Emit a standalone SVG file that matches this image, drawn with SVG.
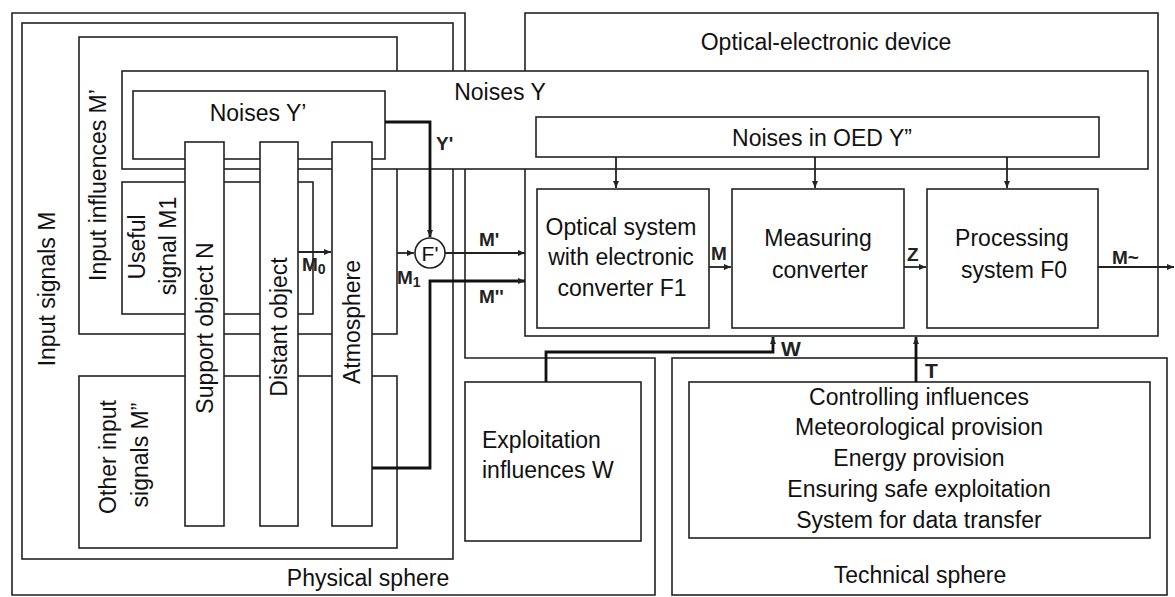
<svg xmlns="http://www.w3.org/2000/svg" width="1175" height="597" viewBox="0 0 1175 597">
<style>
.b{fill:none;stroke:#222;stroke-width:1.6}
.w{fill:#fff;stroke:#222;stroke-width:1.6}
.t{font-family:'Liberation Sans',Arial,sans-serif;font-size:23px;fill:#111;text-anchor:middle;dominant-baseline:central}
.l{font-family:'Liberation Sans',Arial,sans-serif;font-size:19px;font-weight:bold;fill:#222;dominant-baseline:central}
.c{fill:none;stroke:#222;stroke-width:1.8}
.k{fill:none;stroke:#111;stroke-width:2.8}
</style>
<defs>
<marker id="a" markerUnits="userSpaceOnUse" markerWidth="8" markerHeight="8" refX="7" refY="4" orient="auto">
<path d="M0,1 L7,4 L0,7 z" fill="#222"/>
</marker>
</defs>
<rect width="1175" height="597" fill="#fff"/>

<g id="physical-sphere">
<path class="b" d="M12,13 H465 V358 H655 V595 H12 Z"/>
<text class="t" x="368" y="578">Physical sphere</text>
</g>
<g id="input-signals">
<rect class="b" x="22" y="23" width="431" height="536"/>
<text class="t" transform="translate(47,289) rotate(-90)">Input signals M</text>
</g>
<g id="input-influences">
<rect class="b" x="79" y="37" width="318" height="297"/>
<text class="t" transform="translate(98,185) rotate(-90)">Input influences M’</text>
</g>
<g id="other-input">
<rect class="b" x="79" y="376" width="318" height="172"/>
<text class="t" transform="translate(108,457) rotate(-90)">Other input</text>
<text class="t" transform="translate(140,455) rotate(-90)">signals M”</text>
</g>
<g id="useful-signal">
<rect class="b" x="122" y="182" width="191" height="132"/>
<text class="t" transform="translate(137,247) rotate(-90)">Useful</text>
<text class="t" transform="translate(168,246) rotate(-90)">signal M1</text>
</g>
<g id="oed">
<rect class="b" x="525" y="13" width="633" height="323"/>
<text class="t" x="826" y="42">Optical-electronic device</text>
</g>
<g id="noises-y">
<rect class="w" x="122" y="71" width="1026" height="98"/>
<text class="t" x="500" y="92">Noises Y</text>
</g>
<g id="noises-y1">
<rect class="w" x="133" y="91" width="252" height="68"/>
<text class="t" x="258" y="113">Noises Y’</text>
</g>
<g id="support-object">
<rect class="w" x="185" y="142" width="39" height="384"/>
<text class="t" transform="translate(205,328) rotate(-90)">Support object N</text>
</g>
<g id="distant-object">
<rect class="w" x="260" y="142" width="38" height="384"/>
<text class="t" transform="translate(279,327) rotate(-90)">Distant object</text>
</g>
<g id="atmosphere">
<rect class="w" x="332" y="142" width="40" height="384"/>
<text class="t" transform="translate(352,322) rotate(-90)">Atmosphere</text>
</g>
<g id="noises-oed">
<rect class="w" x="536" y="117" width="563" height="40"/>
<text class="t" x="822" y="138">Noises in OED Y”</text>
</g>
<g id="optical-system">
<rect class="w" x="537" y="189" width="172" height="139"/>
<text class="t" x="621" y="227">Optical system</text>
<text class="t" x="621" y="257">with electronic</text>
<text class="t" x="622" y="288">converter F1</text>
</g>
<g id="measuring">
<rect class="w" x="732" y="189" width="172" height="139"/>
<text class="t" x="818" y="238">Measuring</text>
<text class="t" x="820" y="270">converter</text>
</g>
<g id="processing">
<rect class="w" x="927" y="189" width="171" height="139"/>
<text class="t" x="1012" y="238">Processing</text>
<text class="t" x="1014" y="270">system F0</text>
</g>
<g id="fprime">
<circle cx="430" cy="253" r="15" fill="#fff" stroke="#222" stroke-width="1.6"/>
<text class="t" x="430" y="253" style="font-size:21px">F'</text>
</g>
<g id="exploitation">
<rect class="b" x="465" y="382" width="176" height="159"/>
<text class="t" x="482" y="440" style="text-anchor:start">Exploitation</text>
<text class="t" x="482" y="470" style="text-anchor:start">influences W</text>
</g>
<g id="technical-sphere">
<rect class="b" x="672" y="358" width="495" height="237"/>
<text class="t" x="920" y="575">Technical sphere</text>
</g>
<g id="controlling">
<rect class="b" x="689" y="382" width="461" height="156"/>
<text class="t" x="919" y="397">Controlling influences</text>
<text class="t" x="919" y="427">Meteorological provision</text>
<text class="t" x="919" y="458">Energy provision</text>
<text class="t" x="919" y="489">Ensuring safe exploitation</text>
<text class="t" x="919" y="520">System for data transfer</text>
</g>

<g id="connectors">
<path class="k" d="M385,122 H430 V237" marker-end="url(#a)"/>
<path class="c" d="M397,253 H414" marker-end="url(#a)"/>
<path class="c" d="M445,253 H525" marker-end="url(#a)"/>
<path class="k" d="M372,468 H430 V281 H525" marker-end="url(#a)"/>
<path class="c" d="M298,252 H331" marker-end="url(#a)"/>
<path class="c" d="M709,267 H731" marker-end="url(#a)"/>
<path class="c" d="M904,267 H926" marker-end="url(#a)"/>
<path class="c" d="M1098,267 H1174" marker-end="url(#a)"/>
<path class="c" d="M616,157 V188" marker-end="url(#a)"/>
<path class="c" d="M815,157 V188" marker-end="url(#a)"/>
<path class="c" d="M1007,157 V188" marker-end="url(#a)"/>
<path class="k" d="M546,382 V352 H773 V337" marker-end="url(#a)"/>
<path class="k" d="M916,382 V337" marker-end="url(#a)"/>
<text class="l" x="436" y="143">Y'</text>
<text class="l" x="479" y="239">M'</text>
<text class="l" x="479" y="296">M''</text>
<text class="l" x="397" y="277">M<tspan dy="5" style="font-size:14px">1</tspan></text>
<text class="l" x="302" y="264">M<tspan dy="5" style="font-size:14px">0</tspan></text>
<text class="l" x="711" y="253">M</text>
<text class="l" x="907" y="254">Z</text>
<text class="l" x="1112" y="257">M~</text>
<text class="l" x="781" y="348" style="font-size:21px">W</text>
<text class="l" x="925" y="370" style="font-size:21px">T</text>
</g>
</svg>
